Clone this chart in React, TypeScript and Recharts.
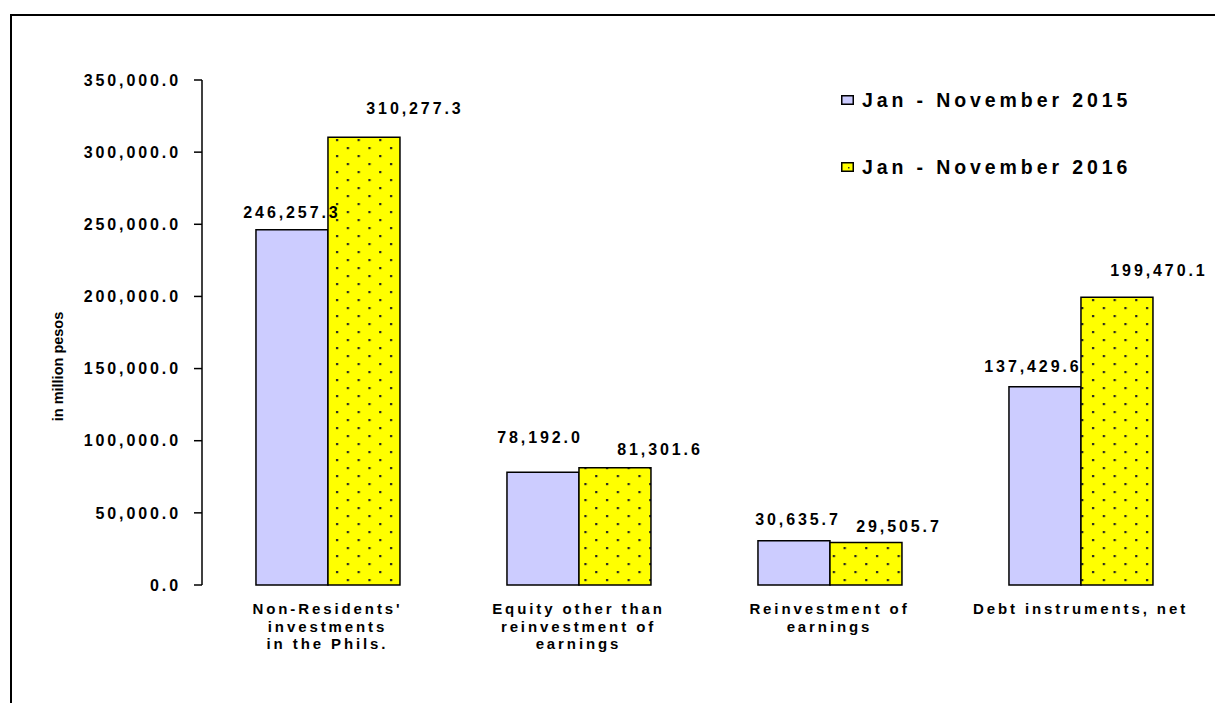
import React from 'react';
import { BarChart, Bar, XAxis, YAxis, Legend, LabelList, Label } from 'recharts';

const categories = [
  ["Non-Residents'", 'investments', 'in the Phils.'],
  ['Equity other than', 'reinvestment of', 'earnings'],
  ['Reinvestment of', 'earnings'],
  ['Debt instruments, net'],
];
const series2015 = [246257.3, 78192.0, 30635.7, 137429.6];
const series2016 = [310277.3, 81301.6, 29505.7, 199470.1];
const yTicks = [0, 50000, 100000, 150000, 200000, 250000, 300000, 350000];
const seriesNames = ['Jan - November 2015', 'Jan - November 2016'];

// label nudges [dx, dy] from the bar's top centre
const nudge2015 = [[0, -17], [-3, -35], [4, -21], [-12, -20]];
const nudge2016 = [[51, -29], [45, -18], [33, -16], [42, -27]];

const data = categories.map((c, i) => ({
  idx: i,
  name: c.join(' '),
  y2015: series2015[i],
  y2016: series2016[i],
}));

const FONT = '"Liberation Sans", Arial, sans-serif';
const BLUE = '#CCCCFF';
const YELLOW = '#FFFF00';

const fmt = (v: number) =>
  v.toLocaleString('en-US', { minimumFractionDigits: 1, maximumFractionDigits: 1 });

const makeValueLabel = (nudges: number[][]) => (props: any) => {
  const { x, y, width, value, index } = props;
  const [dx, dy] = nudges[index] || [0, -18];
  return (
    <text
      x={Number(x) + Number(width) / 2 + dx}
      y={Number(y) + dy}
      textAnchor="middle"
      dominantBaseline="central"
      fontFamily={FONT}
      fontWeight="bold"
      fontSize={16}
      letterSpacing={2.9}
      fill="#000"
    >
      {fmt(value)}
    </text>
  );
};

const CategoryTick = (props: any) => {
  const { x, y, payload } = props;
  const lines = categories[payload.index] || [];
  return (
    <text
      x={x}
      y={y}
      textAnchor="middle"
      fontFamily={FONT}
      fontWeight="bold"
      fontSize={15}
      letterSpacing={2.9}
      fill="#000"
    >
      {lines.map((l, i) => (
        <tspan key={i} x={x} dy={i === 0 ? 21 : 17.5}>
          {l}
        </tspan>
      ))}
    </text>
  );
};

const YTitle = (props: any) => {
  const { viewBox } = props;
  const cx = 50;
  const cy = viewBox.y + viewBox.height / 2 + 34;
  return (
    <text
      x={cx}
      y={cy}
      transform={`rotate(-90 ${cx} ${cy})`}
      textAnchor="middle"
      dominantBaseline="central"
      fontFamily={FONT}
      fontWeight="bold"
      fontSize={14.5}
      fill="#000"
    >
      in million pesos
    </text>
  );
};

const LegendBox = () => (
  <div style={{ fontFamily: FONT }}>
    {seriesNames.map((n, i) => (
      <div
        key={n}
        style={{ display: 'flex', alignItems: 'center', height: 24, marginBottom: i === 0 ? 43 : 0 }}
      >
        <svg width={13} height={10} style={{ marginRight: 8 }}>
          <rect x={0.75} y={0.75} width={11.5} height={8.5} fill={i === 0 ? BLUE : YELLOW} stroke="#000" strokeWidth={1.5} />
          {i === 1 && <rect x={7} y={5} width={1.5} height={1.5} fill="#333" />}
        </svg>
        <span style={{ fontWeight: 'bold', fontSize: 19.5, letterSpacing: 3.9, color: '#000' }}>{n}</span>
      </div>
    ))}
  </div>
);

export default function App() {
  return (
    <div style={{ position: 'relative', width: 1215, height: 695, overflow: 'hidden', background: '#fff' }}>
      <div
        style={{
          position: 'absolute',
          left: 2,
          top: 6,
          width: 1400,
          height: 900,
          borderLeft: '2px solid #000',
          borderTop: '2px solid #000',
        }}
      />
      <BarChart
        width={1215}
        height={695}
        data={data}
        margin={{ top: 72, right: 17, bottom: 18, left: 0 }}
        barCategoryGap="21.5%"
        barGap={0}
        style={{ position: 'absolute', left: 0, top: 0 }}
      >
        <defs>
          <pattern id="dots" width={21.6} height={16} patternUnits="userSpaceOnUse" x={0} y={0}>
            <rect width={21.6} height={16} fill={YELLOW} />
            <rect x={4} y={3} width={2.2} height={2.2} fill="#222" />
            <rect x={14.8} y={11} width={2.2} height={2.2} fill="#222" />
          </pattern>
        </defs>
        <XAxis
          xAxisId="edges"
          type="number"
          dataKey="idx"
          domain={[0, 4]}
          ticks={[0, 1, 2, 3, 4]}
          height={0}
          tick={false}
          tickSize={6}
          axisLine={{ stroke: '#000', strokeWidth: 1.5 }}
          tickLine={{ stroke: '#000', strokeWidth: 1.5 }}
          allowDataOverflow
        />
        <XAxis
          xAxisId="cat"
          dataKey="name"
          axisLine={false}
          tickLine={false}
          interval={0}
          height={100}
          tick={<CategoryTick />}
        />
        <YAxis
          width={194}
          domain={[0, 350000]}
          ticks={yTicks}
          interval={0}
          tickSize={8}
          tickMargin={13}
          tickFormatter={fmt}
          axisLine={{ stroke: '#000', strokeWidth: 1.5 }}
          tickLine={{ stroke: '#000', strokeWidth: 1.5 }}
          tick={{ fontFamily: FONT, fontWeight: 'bold', fontSize: 16, letterSpacing: 2.9, fill: '#000' }}
        >
          <Label content={<YTitle />} />
        </YAxis>
        <Legend
          layout="vertical"
          align="center"
          verticalAlign="middle"
          content={<LegendBox />}
          wrapperStyle={{ position: 'absolute', left: 833, top: 80, width: 370, height: 100 }}
        />
        <Bar
          xAxisId="cat"
          dataKey="y2015"
          name={seriesNames[0]}
          fill={BLUE}
          stroke="#000"
          strokeWidth={1.5}
          isAnimationActive={false}
        >
          <LabelList dataKey="y2015" content={makeValueLabel(nudge2015)} />
        </Bar>
        <Bar
          xAxisId="cat"
          dataKey="y2016"
          name={seriesNames[1]}
          fill="url(#dots)"
          stroke="#000"
          strokeWidth={1.5}
          isAnimationActive={false}
        >
          <LabelList dataKey="y2016" content={makeValueLabel(nudge2016)} />
        </Bar>
      </BarChart>
    </div>
  );
}
